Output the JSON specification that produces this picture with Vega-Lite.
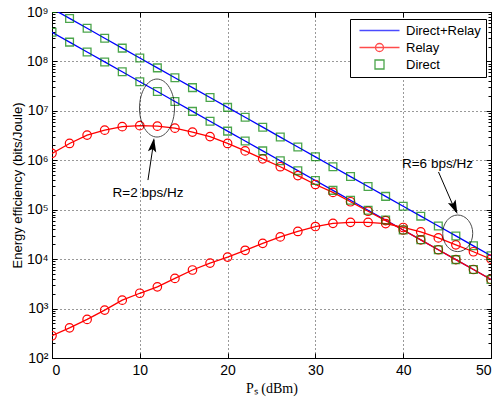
{
  "$schema": "https://vega.github.io/schema/vega-lite/v6.json",
  "width": 439,
  "height": 346,
  "autosize": {"type": "none"},
  "padding": {"left": 52, "top": 12, "right": 6, "bottom": 42},
  "background": "white",
  "config": {
    "view": {"stroke": "#000", "strokeWidth": 1},
    "font": "Liberation Sans",
    "axis": {"labelFont": "Liberation Sans", "labelFontSize": 13, "labelColor": "#000", "domainColor": "#000", "tickColor": "#000", "titleColor": "#000", "titleFontWeight": "normal", "gridColor": "#000", "gridDash": [1, 3], "gridOpacity": 0.8, "gridWidth": 1}
  },
  "datasets": {
    "main": [
      {"p": 0, "r": "2", "direct": 3.89e8, "relay": 1.38e6, "both": 3.89e8},
      {"p": 2, "r": "2", "direct": 2.46e8, "relay": 2.19e6, "both": 2.46e8},
      {"p": 4, "r": "2", "direct": 1.55e8, "relay": 3.24e6, "both": 1.55e8},
      {"p": 6, "r": "2", "direct": 9.77e7, "relay": 4.07e6, "both": 9.77e7},
      {"p": 8, "r": "2", "direct": 6.17e7, "relay": 4.79e6, "both": 6.17e7},
      {"p": 10, "r": "2", "direct": 3.89e7, "relay": 5.01e6, "both": 3.89e7},
      {"p": 12, "r": "2", "direct": 2.46e7, "relay": 4.90e6, "both": 2.46e7},
      {"p": 14, "r": "2", "direct": 1.55e7, "relay": 4.47e6, "both": 1.55e7},
      {"p": 16, "r": "2", "direct": 9.77e6, "relay": 3.72e6, "both": 9.77e6},
      {"p": 18, "r": "2", "direct": 6.17e6, "relay": 3.02e6, "both": 6.17e6},
      {"p": 20, "r": "2", "direct": 3.89e6, "relay": 2.19e6, "both": 3.89e6},
      {"p": 22, "r": "2", "direct": 2.46e6, "relay": 1.55e6, "both": 2.46e6},
      {"p": 24, "r": "2", "direct": 1.55e6, "relay": 1.07e6, "both": 1.55e6},
      {"p": 26, "r": "2", "direct": 9.77e5, "relay": 7.41e5, "both": 9.77e5},
      {"p": 28, "r": "2", "direct": 6.17e5, "relay": 4.90e5, "both": 6.17e5},
      {"p": 30, "r": "2", "direct": 3.89e5, "relay": 3.24e5, "both": 3.89e5},
      {"p": 32, "r": "2", "direct": 2.46e5, "relay": 2.24e5, "both": 2.46e5},
      {"p": 34, "r": "2", "direct": 1.55e5, "relay": 1.45e5, "both": 1.55e5},
      {"p": 36, "r": "2", "direct": 9.77e4, "relay": 9.33e4, "both": 9.77e4},
      {"p": 38, "r": "2", "direct": 6.17e4, "relay": 6.03e4, "both": 6.17e4},
      {"p": 40, "r": "2", "direct": 3.89e4, "relay": 3.89e4, "both": 3.89e4},
      {"p": 42, "r": "2", "direct": 2.46e4, "relay": 2.45e4, "both": 2.46e4},
      {"p": 44, "r": "2", "direct": 1.55e4, "relay": 1.55e4, "both": 1.55e4},
      {"p": 46, "r": "2", "direct": 9.77e3, "relay": 9.77e3, "both": 9.77e3},
      {"p": 48, "r": "2", "direct": 6.17e3, "relay": 6.17e3, "both": 6.17e3},
      {"p": 50, "r": "2", "direct": 3.89e3, "relay": 3.89e3, "both": 3.89e3},
      {"p": 0, "r": "6", "direct": 1.175e9, "relay": 282, "both": 1.175e9},
      {"p": 2, "r": "6", "direct": 7.41e8, "relay": 407, "both": 7.41e8},
      {"p": 4, "r": "6", "direct": 4.68e8, "relay": 603, "both": 4.68e8},
      {"p": 6, "r": "6", "direct": 2.95e8, "relay": 933, "both": 2.95e8},
      {"p": 8, "r": "6", "direct": 1.86e8, "relay": 1480, "both": 1.86e8},
      {"p": 10, "r": "6", "direct": 1.175e8, "relay": 2040, "both": 1.175e8},
      {"p": 12, "r": "6", "direct": 7.41e7, "relay": 2750, "both": 7.41e7},
      {"p": 14, "r": "6", "direct": 4.68e7, "relay": 4070, "both": 4.68e7},
      {"p": 16, "r": "6", "direct": 2.95e7, "relay": 6030, "both": 2.95e7},
      {"p": 18, "r": "6", "direct": 1.86e7, "relay": 8320, "both": 1.86e7},
      {"p": 20, "r": "6", "direct": 1.175e7, "relay": 11000, "both": 1.175e7},
      {"p": 22, "r": "6", "direct": 7.41e6, "relay": 15100, "both": 7.41e6},
      {"p": 24, "r": "6", "direct": 4.68e6, "relay": 20900, "both": 4.68e6},
      {"p": 26, "r": "6", "direct": 2.95e6, "relay": 28200, "both": 2.95e6},
      {"p": 28, "r": "6", "direct": 1.86e6, "relay": 36300, "both": 1.86e6},
      {"p": 30, "r": "6", "direct": 1.175e6, "relay": 45700, "both": 1.175e6},
      {"p": 32, "r": "6", "direct": 7.41e5, "relay": 53100, "both": 7.41e5},
      {"p": 34, "r": "6", "direct": 4.68e5, "relay": 55600, "both": 4.68e5},
      {"p": 36, "r": "6", "direct": 2.95e5, "relay": 55600, "both": 2.95e5},
      {"p": 38, "r": "6", "direct": 1.86e5, "relay": 52500, "both": 1.86e5},
      {"p": 40, "r": "6", "direct": 1.175e5, "relay": 43700, "both": 1.175e5},
      {"p": 42, "r": "6", "direct": 7.41e4, "relay": 35500, "both": 7.41e4},
      {"p": 44, "r": "6", "direct": 4.68e4, "relay": 26900, "both": 4.68e4},
      {"p": 46, "r": "6", "direct": 2.95e4, "relay": 19500, "both": 2.95e4},
      {"p": 48, "r": "6", "direct": 1.86e4, "relay": 14100, "both": 1.86e4},
      {"p": 50, "r": "6", "direct": 1.175e4, "relay": 10000, "both": 1.175e4}
    ],
    "legend": [
      {"series": "Direct+Relay"},
      {"series": "Relay"},
      {"series": "Direct"}
    ],
    "notes": [
      {"label": "R=2 bps/Hz", "p": 10.93, "ee": 2.19e5},
      {"label": "R=6 bps/Hz", "p": 43.9, "ee": 8.3e5}
    ],
    "arrows": [
      {"p": 10.93, "ee": 3.98e5, "p2": 11.62, "ee2": 2.6e6},
      {"p": 44.02, "ee": 5.8e5, "p2": 46.0, "ee2": 9.0e4}
    ]
  },
  "layer": [
    {
      "data": {"name": "main"},
      "mark": {"type": "line", "color": "#0000ff", "strokeWidth": 1.3, "clip": true},
      "encoding": {
        "x": {"field": "p", "type": "quantitative", "scale": {"domain": [0, 50], "nice": false},
              "axis": {"orient": "bottom", "values": [0, 10, 20, 30, 40, 50], "grid": true, "tickSize": -5, "labelPadding": 10, "labelFontSize": 14, "title": "Pₛ (dBm)", "titleFont": "Liberation Serif", "titleFontSize": 14, "titlePadding": 4}},
        "y": {"field": "both", "type": "quantitative", "scale": {"type": "log", "domain": [100, 1000000000], "nice": false},
              "axis": {"orient": "left", "values": [100, 1000, 10000, 100000, 1000000, 10000000, 100000000, 1000000000], "grid": true, "tickSize": -5, "labelPadding": 9, "labelFontSize": 14,
                       "labelExpr": "'10' + ['⁰','¹','²','³','⁴','⁵','⁶','⁷','⁸','⁹'][round(log(datum.value)/LN10)]",
                       "title": "Energy efficiency (bits/Joule)", "titleFontSize": 13, "titlePadding": 2}},
        "detail": {"field": "r"}
      }
    },
    {
      "data": {"name": "main"},
      "mark": {"type": "line", "color": "#ff0000", "strokeWidth": 1.3, "clip": true,
               "point": {"filled": false, "size": 72, "strokeWidth": 1.2, "color": "#ff0000"}},
      "encoding": {
        "x": {"field": "p", "type": "quantitative", "scale": {"domain": [0, 50], "nice": false},
              "axis": {"orient": "top", "values": [0, 10, 20, 30, 40, 50], "grid": false, "labels": false, "domain": false, "tickSize": -5, "title": null}},
        "y": {"field": "relay", "type": "quantitative", "scale": {"type": "log", "domain": [100, 1000000000], "nice": false},
              "axis": {"orient": "right", "values": [100, 1000, 10000, 100000, 1000000, 10000000, 100000000, 1000000000], "grid": false, "labels": false, "domain": false, "tickSize": -5, "title": null}},
        "detail": {"field": "r"}
      }
    },
    {
      "data": {"name": "main"},
      "mark": {"type": "point", "shape": "square", "filled": false, "color": "#008000", "size": 60, "strokeWidth": 1.3, "clip": true},
      "encoding": {
        "x": {"field": "p", "type": "quantitative", "scale": {"domain": [0, 50], "nice": false}, "axis": null},
        "y": {"field": "direct", "type": "quantitative", "scale": {"type": "log", "domain": [100, 1000000000], "nice": false},
              "axis": {"orient": "left", "values": [200,300,400,500,600,700,800,900,2000,3000,4000,5000,6000,7000,8000,9000,20000,30000,40000,50000,60000,70000,80000,90000,200000,300000,400000,500000,600000,700000,800000,900000,2000000,3000000,4000000,5000000,6000000,7000000,8000000,9000000,20000000,30000000,40000000,50000000,60000000,70000000,80000000,90000000,200000000,300000000,400000000,500000000,600000000,700000000,800000000,900000000],
                       "grid": false, "labels": false, "domain": false, "tickSize": -3, "title": null}}
      }
    },
    {
      "data": {"name": "notes"},
      "mark": {"type": "point", "shape": "M-0.6034,0 A0.6034,1 0 1,0 0.6034,0 A0.6034,1 0 1,0 -0.6034,0 Z", "size": 3364, "filled": false, "color": "#000", "strokeWidth": 1},
      "transform": [{"filter": "datum.label == 'R=2 bps/Hz'"}],
      "encoding": {
        "x": {"datum": 11.96, "type": "quantitative", "scale": {"domain": [0, 50], "nice": false}, "axis": null},
        "y": {"datum": 11400000, "type": "quantitative", "scale": {"type": "log", "domain": [100, 1000000000], "nice": false},
              "axis": {"orient": "right", "values": [200,300,400,500,600,700,800,900,2000,3000,4000,5000,6000,7000,8000,9000,20000,30000,40000,50000,60000,70000,80000,90000,200000,300000,400000,500000,600000,700000,800000,900000,2000000,3000000,4000000,5000000,6000000,7000000,8000000,9000000,20000000,30000000,40000000,50000000,60000000,70000000,80000000,90000000,200000000,300000000,400000000,500000000,600000000,700000000,800000000,900000000],
                       "grid": false, "labels": false, "domain": false, "tickSize": -3, "title": null}}
      }
    },
    {
      "data": {"name": "notes"},
      "mark": {"type": "point", "shape": "M-0.82,0 A0.82,1 0 1,0 0.82,0 A0.82,1 0 1,0 -0.82,0 Z", "size": 1340, "filled": false, "color": "#000", "strokeWidth": 1},
      "transform": [{"filter": "datum.label == 'R=6 bps/Hz'"}],
      "encoding": {
        "x": {"datum": 46.21, "type": "quantitative", "axis": null},
        "y": {"datum": 33300, "type": "quantitative", "axis": null}
      }
    },
    {
      "data": {"name": "arrows"},
      "mark": {"type": "rule", "color": "#000", "strokeWidth": 1},
      "encoding": {
        "x": {"field": "p", "type": "quantitative", "axis": null},
        "y": {"field": "ee", "type": "quantitative", "axis": null},
        "x2": {"field": "p2"},
        "y2": {"field": "ee2"}
      }
    },
    {
      "data": {"name": "notes"},
      "mark": {"type": "point", "shape": "M0,0 L0.6,2 L0,1.6 L-0.6,2 Z", "size": 196, "filled": true, "color": "#000", "angle": 8, "opacity": 1},
      "transform": [{"filter": "datum.label == 'R=2 bps/Hz'"}],
      "encoding": {
        "x": {"datum": 11.62, "type": "quantitative", "axis": null},
        "y": {"datum": 2820000, "type": "quantitative", "axis": null}
      }
    },
    {
      "data": {"name": "notes"},
      "mark": {"type": "point", "shape": "M0,0 L0.6,2 L0,1.6 L-0.6,2 Z", "size": 196, "filled": true, "color": "#000", "angle": 156, "opacity": 1},
      "transform": [{"filter": "datum.label == 'R=6 bps/Hz'"}],
      "encoding": {
        "x": {"datum": 46.18, "type": "quantitative", "axis": null},
        "y": {"datum": 82000, "type": "quantitative", "axis": null}
      }
    },
    {
      "data": {"name": "notes"},
      "mark": {"type": "text", "font": "Liberation Sans", "fontSize": 13.5, "color": "#000", "align": "center", "baseline": "middle"},
      "encoding": {
        "x": {"field": "p", "type": "quantitative", "axis": null},
        "y": {"field": "ee", "type": "quantitative", "axis": null},
        "text": {"field": "label"}
      }
    },
    {
      "data": {"name": "legend"},
      "transform": [{"filter": "false"}],
      "mark": {"type": "point", "filled": false, "size": 100, "strokeWidth": 1.3},
      "encoding": {
        "color": {"field": "series", "type": "nominal",
                  "scale": {"domain": ["Direct+Relay", "Relay", "Direct"], "range": ["#0000ff", "#ff0000", "#008000"]},
                  "legend": {"orient": "none", "legendX": 298, "legendY": 7, "title": null, "strokeColor": "#000", "fillColor": "#fff", "padding": 5,
                             "labelFont": "Liberation Sans", "labelFontSize": 13, "labelColor": "#000", "symbolSize": 100, "symbolStrokeWidth": 1.3,
                             "symbolOffset": 18, "labelOffset": 20, "rowPadding": 2, "symbolFillColor": "transparent"}},
        "shape": {"field": "series", "type": "nominal",
                  "scale": {"domain": ["Direct+Relay", "Relay", "Direct"],
                            "range": ["M-4,0 L4,0", "M-4,0 L4,0 M-0.8,0 A0.8,0.8 0 1,0 0.8,0 A0.8,0.8 0 1,0 -0.8,0", "M-0.9,-0.9 L0.9,-0.9 L0.9,0.9 L-0.9,0.9 Z"]},
                  "legend": {"orient": "none", "legendX": 298, "legendY": 7, "title": null, "strokeColor": "#000", "fillColor": "#fff", "padding": 5,
                             "labelFont": "Liberation Sans", "labelFontSize": 13, "labelColor": "#000", "symbolSize": 100, "symbolStrokeWidth": 1.3,
                             "symbolOffset": 18, "labelOffset": 20, "rowPadding": 2, "symbolFillColor": "transparent"}}
      }
    }
  ],
  "resolve": {"axis": {"x": "independent", "y": "independent"}}
}
